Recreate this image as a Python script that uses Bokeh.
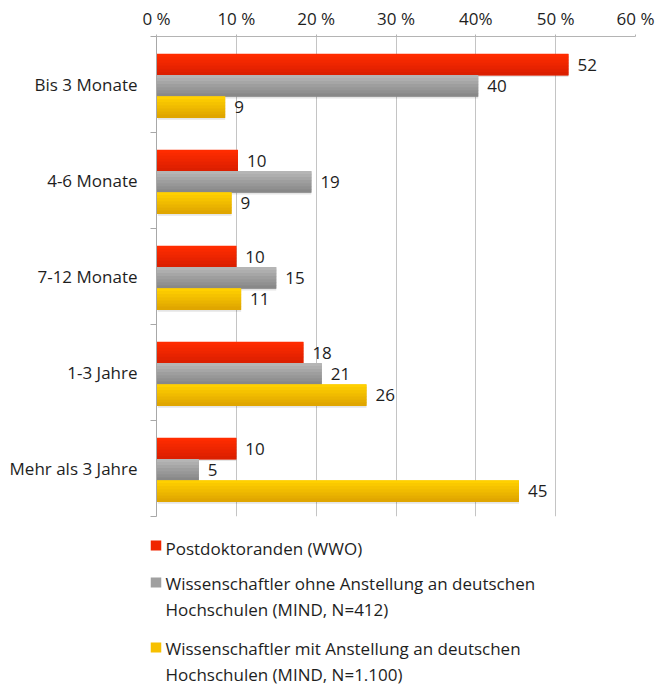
from bokeh.plotting import figure
from bokeh.layouts import column
from bokeh.models import ColumnDataSource, Range1d, FixedTicker
from bokeh.transform import dodge
from bokeh.core.properties import value
from bokeh.embed import file_html
from bokeh.resources import INLINE

# ---- data ----
categories = ["Bis 3 Monate", "4-6 Monate", "7-12 Monate", "1-3 Jahre", "Mehr als 3 Jahre"]
postdoc = [51.6, 10.2, 10.0, 18.4, 10.0]
postdoc_labels = ["52", "10", "10", "18", "10"]
ohne = [40.3, 19.4, 15.0, 20.7, 5.3]
ohne_labels = ["40", "19", "15", "21", "5"]
mit = [8.6, 9.4, 10.6, 26.3, 45.4]
mit_labels = ["9", "9", "11", "26", "45"]
series_lines = [
    ["Postdoktoranden (WWO)"],
    ["Wissenschaftler ohne Anstellung an deutschen", "Hochschulen (MIND, N=412)"],
    ["Wissenschaftler mit Anstellung an deutschen", "Hochschulen (MIND, N=1.100)"],
]
x_ticks = [0, 10, 20, 30, 40, 50, 60]
x_tick_labels = ["0 %", "10 %", "20 %", "30 %", "40%", "50 %", "60 %"]

# ---- styling ----
FONT = "Open Sans"
TXT = "#1e1e1e"
grad = [("#ff2c00", "#dc1f00"), ("#b5b5b5", "#888888"), ("#ffd000", "#e0a600")]
mid = ["#f02500", "#a0a0a0", "#f7c000"]

W = 659
n = len(categories)
pos = [n - i - 0.5 for i in range(n)]
src = ColumnDataSource(dict(pos=pos, cat=categories,
                            v0=postdoc, v1=ohne, v2=mit,
                            l0=postdoc_labels, l1=ohne_labels, l2=mit_labels))

p = figure(width=W, height=525, output_backend="svg", toolbar_location=None,
           x_range=Range1d(0, 60), y_range=Range1d(0, n),
           x_axis_location="above",
           min_border_left=156, min_border_right=24, min_border_top=36,
           min_border_bottom=9)
p.outline_line_color = None
p.background_fill_color = "white"
p.border_fill_color = "white"

H = 0.222
shift = -0.014
offsets = [H + shift, shift, -H + shift]
NSTRIP = 7


def hexmix(a, b, t):
    a = [int(a[i:i + 2], 16) for i in (1, 3, 5)]
    b = [int(b[i:i + 2], 16) for i in (1, 3, 5)]
    c = [round(a[j] + (b[j] - a[j]) * t) for j in range(3)]
    return "#%02x%02x%02x" % tuple(c)


for s in range(3):
    off = offsets[s]
    # soft shadow
    p.hbar(y=dodge("pos", off - 0.02, range=p.y_range), left=0.15, right=f"v{s}",
           height=H, source=src, fill_color="black", fill_alpha=0.10, line_color=None)
    # base bar (mid colour) beneath the gradient strips
    p.hbar(y=dodge("pos", off, range=p.y_range), left=0, right=f"v{s}",
           height=H, source=src, fill_color=hexmix(grad[s][0], grad[s][1], 0.5),
           line_color=None)
    sh = H / NSTRIP
    for k in range(NSTRIP):
        o = off + H / 2 - (k + 0.5) * sh
        col = hexmix(grad[s][0], grad[s][1], k / (NSTRIP - 1))
        p.hbar(y=dodge("pos", o, range=p.y_range), left=0, right=f"v{s}",
               height=sh * 1.15, source=src, fill_color=col, line_color=None)
    p.text(x=f"v{s}", y=dodge("pos", off, range=p.y_range), text=f"l{s}", source=src,
           x_offset=9, text_baseline="middle", text_align="left",
           text_font=value(FONT), text_font_size="17px", text_color=TXT)

# x axis (top)
xa = p.xaxis[0]
xa.ticker = FixedTicker(ticks=x_ticks)
xa.major_label_overrides = {t: l for t, l in zip(x_ticks, x_tick_labels)}
xa.axis_line_color = "#b4b4b4"
xa.major_tick_line_color = "#b4b4b4"
xa.major_tick_out = 2
xa.major_tick_in = 0
xa.minor_tick_line_color = None
xa.major_label_standoff = 5
xa.major_label_text_font = FONT
xa.major_label_text_font_size = "17px"
xa.major_label_text_color = TXT

# y axis
ya = p.yaxis[0]
ya.ticker = FixedTicker(ticks=pos, minor_ticks=[float(i) for i in range(n + 1)])
ya.major_label_overrides = {pp: c for pp, c in zip(pos, categories)}
ya.axis_line_color = "#a8a8a8"
ya.major_tick_line_color = None
ya.major_tick_out = 0
ya.major_tick_in = 0
ya.minor_tick_line_color = "#a8a8a8"
ya.minor_tick_out = 6
ya.minor_tick_in = 0
ya.major_label_standoff = 13
ya.major_label_text_font = FONT
ya.major_label_text_font_size = "17px"
ya.major_label_text_color = TXT

p.xgrid.ticker = FixedTicker(ticks=x_ticks)
p.xgrid.grid_line_color = "#c4c4c4"
p.ygrid.grid_line_color = None

# ---- legend as a second, axis-less figure (coordinates = page pixels) ----
TOP = 525
lg = figure(width=W, height=685 - TOP, output_backend="svg", toolbar_location=None,
            x_range=Range1d(0, W), y_range=Range1d(685, TOP),
            x_axis_type=None, y_axis_type=None, min_border=0)
lg.outline_line_color = None
lg.grid.visible = False
lg.background_fill_color = "white"
lg.border_fill_color = "white"

for fig in (p, lg):
    if "frame_align" in fig.properties():
        fig.frame_align = False

sq_y = [545, 582, 647]
first_mid = [548, 582.5, 647.5]
LINE = 26.3
for s in range(3):
    lg.rect(x=[155.5], y=[sq_y[s]], width=10.5, height=10, fill_color=mid[s], line_color=None)
    lines = series_lines[s]
    lg.text(x=[165] * len(lines), y=[first_mid[s] + LINE * i for i in range(len(lines))],
            text=lines, text_baseline="middle", text_align="left",
            text_font=value(FONT), text_font_size="17px", text_color=TXT)

open("out.html", "w").write(file_html(column(p, lg, spacing=0), INLINE))
